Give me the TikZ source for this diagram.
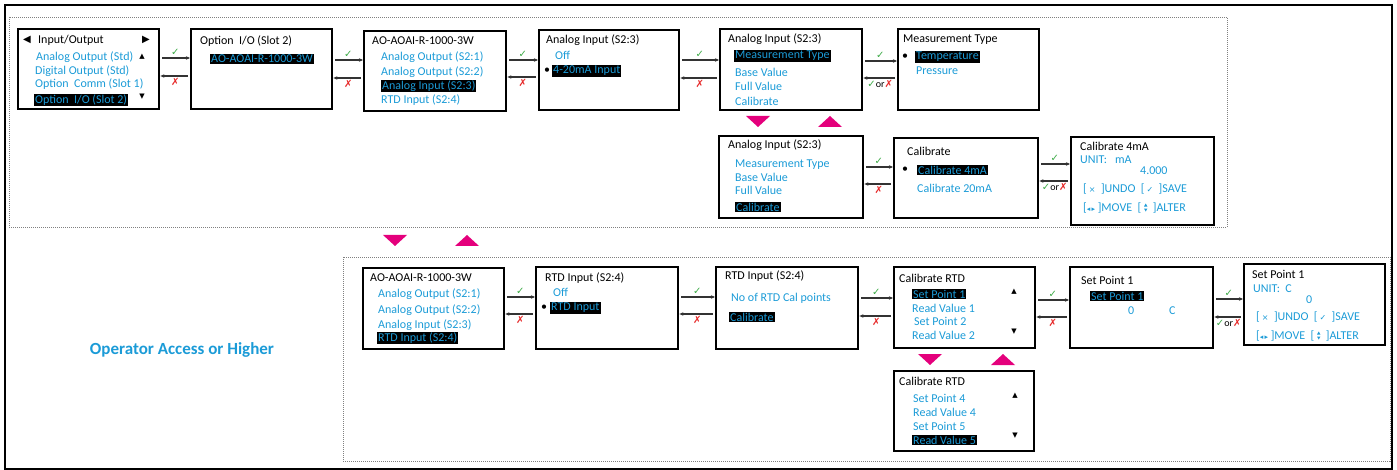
\documentclass[tikz,border=0pt]{standalone}
\usepackage{fontspec}
\setmainfont{Carlito}
\newfontfamily\symf{DejaVu Sans}
\usetikzlibrary{arrows.meta,positioning,calc}

\definecolor{geblue}{RGB}{27,155,215}
\definecolor{okgreen}{RGB}{60,170,70}
\definecolor{nored}{RGB}{230,40,40}
\definecolor{pinktri}{RGB}{228,0,124}

\newcommand{\okmark}{{\symf\color{okgreen}✓}}
\newcommand{\nomark}{{\symf\color{nored}✗}}
\newcommand{\eithermark}{\okmark{}or\nomark}
\newcommand{\updn}{\tikz[x=1pt,y=1pt,baseline=0pt]{\fill[geblue] (0,5) -- (3.4,5) -- (1.7,8) -- cycle; \fill[geblue] (0,3) -- (3.4,3) -- (1.7,0) -- cycle;}}
\newcommand{\undosave}{[\,{\symf\fontsize{8}{8}\selectfont ×}\ \ ]UNDO\ \ [\,{\symf\fontsize{8}{8}\selectfont ✓}\ \ ]SAVE}
\newcommand{\movealter}{[{\symf\fontsize{7}{7}\selectfont ◂\,▸}\ ]MOVE\ \ [\ \updn\ \ ]ALTER}

% forward / back arrow pair between two screens
\newcommand{\linkboxes}[5]{%
  \draw[fwd] (#1.east |- 0,#3) -- node[lblok]{\okmark} (#2.west |- 0,#3);
  \draw[fwd] (#2.west |- 0,#4) -- node[lblno]{#5} (#1.east |- 0,#4);}
\newcommand{\downtri}[2]{\fill[pinktri] (#1-12,#2) -- (#1+12,#2) -- (#1,#2+11) -- cycle;}
\newcommand{\uptri}[2]{\fill[pinktri] (#1-12,#2+11) -- (#1+12,#2+11) -- (#1,#2) -- cycle;}

\tikzset{
  screen/.style={draw=black, line width=2.4pt, anchor=north west, inner sep=0pt},
  ttl/.style={anchor=west, inner sep=0pt, font=\fontsize{12}{14}\selectfont, text=black},
  itm/.style={ttl, text=geblue},
  sel/.style={itm, fill=black, inner sep=1pt},
  arr/.style={anchor=center, inner sep=0pt, font=\symf\fontsize{7}{7}\selectfont},
  fwd/.style={-{Stealth[length=4pt,width=3.5pt]}, line width=1.2pt, draw=black!80, shorten <=2pt},
  lblok/.style={above=1pt, inner sep=1pt, font=\fontsize{10}{10}\selectfont},
  lblno/.style={below=1pt, inner sep=1pt, font=\fontsize{10}{10}\selectfont},
  zone/.style={draw=gray, line width=0.8pt, dash pattern=on 1pt off 1pt}
}

\begin{document}
\begin{tikzpicture}[x=1pt,y=-1pt]
  \useasboundingbox (0,0) rectangle (1397,470);
  \draw[line width=2.5pt] (5,5) rectangle (1392,469);
  \draw[zone] (9,17) rectangle (1227,227);
  \draw[zone] (343,257) rectangle (1390,461);

  % Top row
  \node[screen, minimum width=141pt, minimum height=80pt] (io) at (17,28) {};
  \node[arr, font=\symf\fontsize{10}{10}\selectfont] (ioL) at (27,40) {◀};
  \node[ttl] (ioT) at (38,40) {Input/Output};
  \node[arr, font=\symf\fontsize{10}{10}\selectfont] (ioR) at (146,40) {▶};
  \node[itm] (io1) at (36,57) {Analog Output (Std)};
  \node[arr] (ioU) at (142,57) {▲};
  \node[itm] (io2) at (35,71) {Digital Output (Std)};
  \node[itm] (io3) at (35,84) {Option\ \ Comm (Slot 1)};
  \node[sel] (io4) at (34,100) {Option\ \ I/O (Slot 2)};
  \node[arr] (ioD) at (142,97) {▼};

  \node[screen, minimum width=141pt, minimum height=80pt] (opt) at (190,28) {};
  \node[ttl] (optT) at (200,41) {Option\ \ I/O (Slot 2)};
  \node[sel] (opt1) at (210,59) {AO-AOAI-R-1000-3W};

  \node[screen, minimum width=142pt, minimum height=80pt] (aoai) at (363,30) {};
  \node[ttl] (aoaiT) at (372,41) {AO-AOAI-R-1000-3W};
  \node[itm] (aoai1) at (381,57) {Analog Output (S2:1)};
  \node[itm] (aoai2) at (381,72) {Analog Output (S2:2)};
  \node[sel] (aoai3) at (381,86) {Analog Input (S2:3)};
  \node[itm] (aoai4) at (381,100) {RTD Input (S2:4)};

  \node[screen, minimum width=140pt, minimum height=80pt] (aiin) at (538,29) {};
  \node[ttl] (aiinT) at (546,40) {Analog Input (S2:3)};
  \node[itm] (aiin1) at (555,55) {Off};
  \node[ttl] (aiinB) at (544,71) {•};
  \node[sel] (aiin2) at (552,71) {4-20mA Input};

  \node[screen, minimum width=142pt, minimum height=81pt] (aimenu) at (719,28) {};
  \node[ttl] (aimenuT) at (728,39) {Analog Input (S2:3)};
  \node[sel] (aimenu1) at (734,56) {Measurement Type};
  \node[itm] (aimenu2) at (735,72) {Base Value};
  \node[itm] (aimenu3) at (735,86) {Full Value};
  \node[itm] (aimenu4) at (735,101) {Calibrate};

  \node[screen, minimum width=141pt, minimum height=81pt] (mtype) at (897,28) {};
  \node[ttl] (mtypeT) at (903,40) {Measurement Type};
  \node[ttl] (mtypeB) at (902,57) {•};
  \node[sel] (mtype1) at (915,57) {Temperature};
  \node[itm] (mtype2) at (916,71) {Pressure};

  \linkboxes{io}{opt}{58}{76}{\nomark}
  \linkboxes{opt}{aoai}{60}{78}{\nomark}
  \linkboxes{aoai}{aiin}{60}{77}{\nomark}
  \linkboxes{aiin}{aimenu}{60}{78}{\nomark}
  \linkboxes{aimenu}{mtype}{61}{78}{\eithermark}

  \downtri{758}{116}
  \uptri{830}{116}

  % Calibrate branch
  \node[screen, minimum width=144pt, minimum height=82pt] (aical) at (718,135) {};
  \node[ttl] (aicalT) at (728,145) {Analog Input (S2:3)};
  \node[itm] (aical1) at (735,165) {Measurement Type};
  \node[itm] (aical2) at (735,177) {Base Value};
  \node[itm] (aical3) at (735,190) {Full Value};
  \node[sel] (aical4) at (735,207) {Calibrate};

  \node[screen, minimum width=144pt, minimum height=80pt] (cal) at (893,137) {};
  \node[ttl] (calT) at (907,151) {Calibrate};
  \node[ttl] (calB) at (902,170) {•};
  \node[sel] (cal1) at (917,170) {Calibrate 4mA};
  \node[itm] (cal2) at (917,188) {Calibrate 20mA};

  \node[screen, minimum width=143pt, minimum height=88pt] (cal4) at (1070,136) {};
  \node[ttl] (cal4T) at (1080,146) {Calibrate 4mA};
  \node[itm] (cal4U) at (1080,160) {UNIT:\ \ \ mA};
  \node[itm] (cal4V) at (1140,171) {4.000};
  \node[itm] (cal4K) at (1083,189) {\undosave};
  \node[itm] (cal4M) at (1083,208) {\movealter};

  \linkboxes{aical}{cal}{167}{184}{\nomark}
  \linkboxes{cal}{cal4}{164}{181}{\eithermark}

  % RTD row
  \downtri{395}{235}
  \uptri{467}{235}

  \node[font=\bfseries\fontsize{17}{20}\selectfont, text=geblue] (access) at (182,350) {Operator Access or Higher};

  \node[screen, minimum width=141pt, minimum height=81pt] (rtdlist) at (362,267) {};
  \node[ttl] (rtdlistT) at (370,278) {AO-AOAI-R-1000-3W};
  \node[itm] (rtdlist1) at (378,294) {Analog Output (S2:1)};
  \node[itm] (rtdlist2) at (378,310) {Analog Output (S2:2)};
  \node[itm] (rtdlist3) at (378,325) {Analog Input (S2:3)};
  \node[sel] (rtdlist4) at (377,338) {RTD Input (S2:4)};

  \node[screen, minimum width=142pt, minimum height=82pt] (rtdin) at (535,266) {};
  \node[ttl] (rtdinT) at (545,278) {RTD Input (S2:4)};
  \node[itm] (rtdin1) at (553,292) {Off};
  \node[ttl] (rtdinB) at (541,308) {•};
  \node[sel] (rtdin2) at (550,308) {RTD Input};

  \node[screen, minimum width=142pt, minimum height=82pt] (rtdmenu) at (715,266) {};
  \node[ttl] (rtdmenuT) at (725,276) {RTD Input (S2:4)};
  \node[itm] (rtdmenu1) at (731,298) {No of RTD Cal points};
  \node[sel] (rtdmenu2) at (729,317) {Calibrate};

  \node[screen, minimum width=141pt, minimum height=81pt] (calrtd) at (893,266) {};
  \node[ttl] (calrtdT) at (899,278) {Calibrate RTD};
  \node[sel] (calrtd1) at (912,294) {Set Point 1};
  \node[itm] (calrtd2) at (912,308) {Read Value 1};
  \node[itm] (calrtd3) at (914,321) {Set Point 2};
  \node[itm] (calrtd4) at (912,335) {Read Value 2};
  \node[arr] (calrtdU) at (1014,292) {▲};
  \node[arr] (calrtdD) at (1014,332) {▼};

  \node[screen, minimum width=143pt, minimum height=81pt] (sp1) at (1069,266) {};
  \node[ttl] (sp1T) at (1081,280) {Set Point 1};
  \node[sel] (sp1S) at (1090,296) {Set Point 1};
  \node[itm] (sp1V) at (1128,311) {0};
  \node[itm] (sp1C) at (1169,311) {C};

  \node[screen, minimum width=141pt, minimum height=81pt] (sp1edit) at (1243,263) {};
  \node[ttl] (sp1editT) at (1252,274) {Set Point 1};
  \node[itm] (sp1editU) at (1253,289) {UNIT:\ \ C};
  \node[itm] (sp1editV) at (1306,300) {0};
  \node[itm] (sp1editK) at (1256,317) {\undosave};
  \node[itm] (sp1editM) at (1256,336) {\movealter};

  \linkboxes{rtdlist}{rtdin}{297}{314}{\nomark}
  \linkboxes{rtdin}{rtdmenu}{297}{314}{\nomark}
  \linkboxes{rtdmenu}{calrtd}{298}{316}{\nomark}
  \linkboxes{calrtd}{sp1}{300}{317}{\nomark}
  \linkboxes{sp1}{sp1edit}{299}{317}{\eithermark}

  \downtri{930}{354}
  \uptri{1003}{354}

  \node[screen, minimum width=140pt, minimum height=80pt] (calrtdb) at (893,370) {};
  \node[ttl] (calrtdbT) at (899,381) {Calibrate RTD};
  \node[itm] (calrtdb1) at (913,398) {Set Point 4};
  \node[itm] (calrtdb2) at (913,412) {Read Value 4};
  \node[itm] (calrtdb3) at (913,426) {Set Point 5};
  \node[sel] (calrtdb4) at (912,440) {Read Value 5};
  \node[arr] (calrtdbU) at (1015,396) {▲};
  \node[arr] (calrtdbD) at (1015,436) {▼};
\end{tikzpicture}
\end{document}
